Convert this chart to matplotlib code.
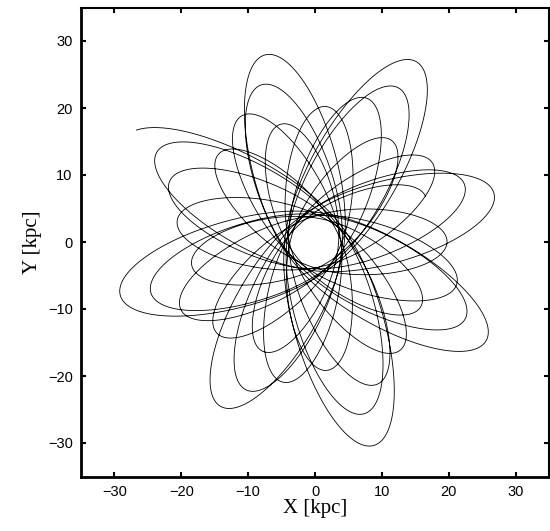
import numpy as np
import matplotlib
matplotlib.use("Agg")
import matplotlib.pyplot as plt

# values (kpc)
start_xy = [-26.7, 16.7]      # loose end of the orbit, upper left
heading = [0.946, 0.323]      # direction the loose end runs in
rp_start = 4.6                # pericentre, edge of the empty hole
ra_end = 18.0                 # smallest outer loop
n_apo = 36                    # number of loops
halo_rs = 10.0                # NFW scale radius of the host

xticks = [-30, -20, -10, 0, 10, 20, 30]
yticks = [-30, -20, -10, 0, 10, 20, 30]


def phi(r):
    u = r / halo_rs
    return -np.log1p(u) / u


def dphi_over_r(r):
    u = r / halo_rs
    return (np.log1p(u) / u**2 - 1.0 / (u * (1 + u))) / halo_rs / r


def peri(E, L, r0):
    lo, hi = 1e-3, r0
    for _ in range(60):
        mid = 0.5 * (lo + hi)
        if 2 * (E - phi(mid)) - L**2 / mid**2 < 0:
            lo = mid
        else:
            hi = mid
    return lo


def start_speed():
    p = np.array(start_xy)
    d = np.array(heading)
    r0 = np.hypot(*p)
    lo, hi = 0.001, 2.0
    for _ in range(60):
        s = 0.5 * (lo + hi)
        E = phi(r0) + 0.5 * s * s
        L = abs(p[0] * d[1] - p[1] * d[0]) * s
        if peri(E, L, r0) < rp_start:
            lo = s
        else:
            hi = s
    return lo


# friction that bites near pericentre (fast), so the loops shrink while the
# inner hole stays; several strengths at once, keep the one ending at ra_end
drag = np.logspace(-4.2, -2.5, 24)
n = len(drag)
s0 = start_speed()
pos = np.tile(np.array(start_xy, float), (n, 1))
vel = np.tile(s0 * np.array(heading), (n, 1))
dt = 0.08
nsteps = 130000
keep = 2
track = np.empty((nsteps // keep + 1, n, 2))
track[0] = pos


def acc(p, v):
    r = np.hypot(p[:, 0], p[:, 1])
    sp = np.hypot(v[:, 0], v[:, 1])
    return -p * dphi_over_r(r)[:, None] - (drag * sp)[:, None] * v


a = acc(pos, vel)
for i in range(1, nsteps + 1):
    vel += 0.5 * dt * a
    pos += dt * vel
    a = acc(pos, vel)
    vel += 0.5 * dt * a
    if i % keep == 0:
        track[i // keep] = pos

best, best_err, best_end = None, 1e9, len(track)
for k in range(n):
    r = np.hypot(track[:, k, 0], track[:, k, 1])
    apo = np.where((r[1:-1] > r[:-2]) & (r[1:-1] >= r[2:]))[0] + 1
    if len(apo) < n_apo:
        continue
    err = abs(r[apo[n_apo - 1]] - ra_end)
    if err < best_err:
        best, best_err, best_end = k, err, apo[n_apo - 1]
if best is None:
    best = n - 1
orbit = track[:best_end + 1, best, :]

plt.rcParams['axes.unicode_minus'] = True
fig = plt.figure(figsize=(5.5, 5.31), dpi=100)
ax = fig.add_axes([81 / 550, 54.5 / 531, 468 / 550, 469 / 531])
ax.plot(orbit[:, 0], orbit[:, 1], color='k', lw=0.6)

ax.set_xlim(-35, 35)
ax.set_ylim(-35, 35)
ax.set_xticks(xticks)
ax.set_yticks(yticks)
ax.tick_params(direction='in', top=True, right=True, length=3.5, width=1.5,
               labelsize=10.5, pad=6)
for lab in ax.get_xticklabels() + ax.get_yticklabels():
    lab.set_family('Liberation Sans')
ax.spines['left'].set_linewidth(2.0)
ax.spines['bottom'].set_linewidth(2.0)
ax.spines['top'].set_linewidth(1.5)
ax.spines['right'].set_linewidth(1.5)

ax.set_xlabel('X [kpc]', family='Liberation Serif', fontsize=15, labelpad=0)
ax.set_ylabel('Y [kpc]', family='Liberation Serif', fontsize=15, labelpad=4)

fig.savefig("out.png", dpi=100)
